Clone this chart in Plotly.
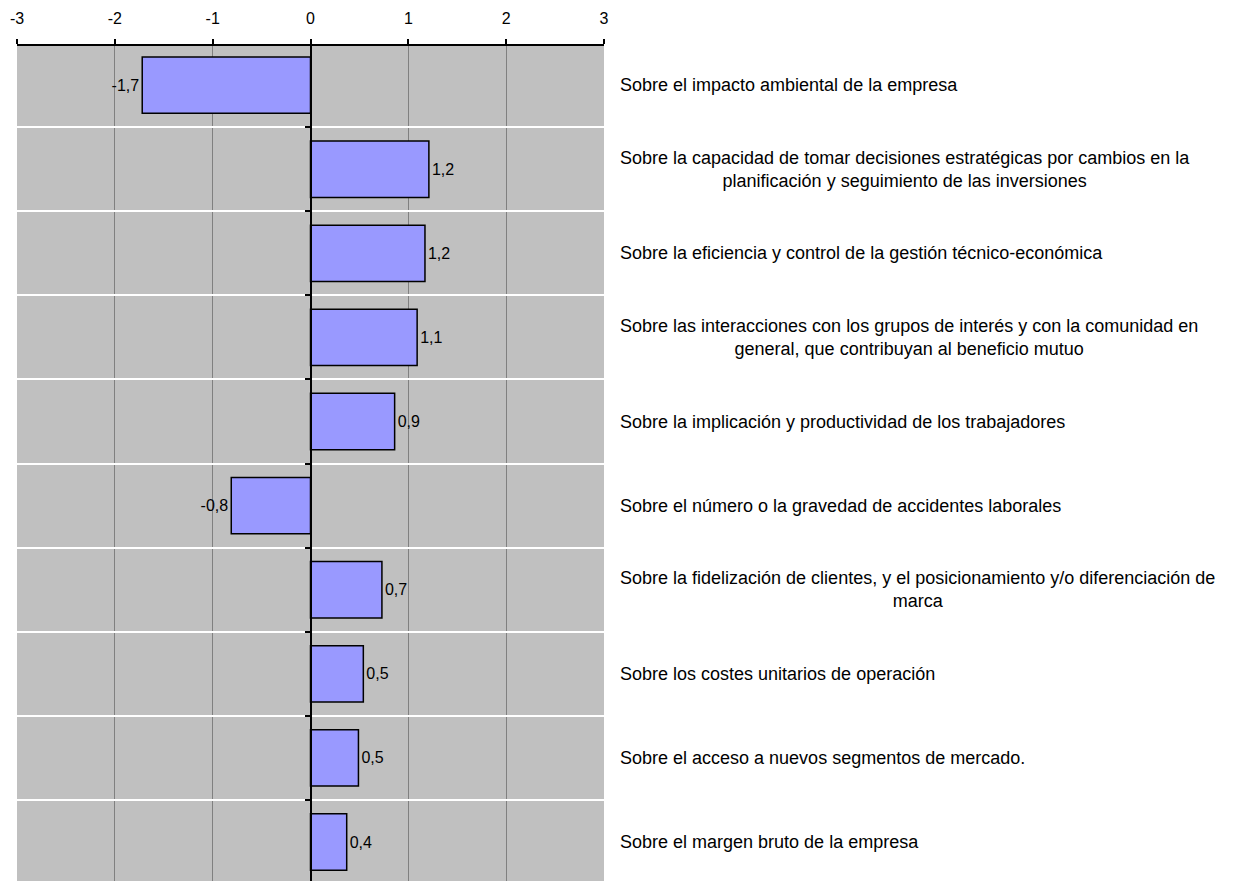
import plotly.graph_objects as go

categories = [
    "Sobre el impacto ambiental de la empresa",
    "Sobre la capacidad de tomar decisiones estratégicas por cambios en la<br>planificación y seguimiento de las inversiones",
    "Sobre la eficiencia y control de la gestión técnico-económica",
    "Sobre las interacciones con los grupos de interés y con la comunidad en<br>general, que contribuyan al beneficio mutuo",
    "Sobre la implicación y productividad de los trabajadores",
    "Sobre el número o la gravedad de accidentes laborales",
    "Sobre la fidelización de clientes, y el posicionamiento y/o diferenciación de<br>marca",
    "Sobre los costes unitarios de operación",
    "Sobre el acceso a nuevos segmentos de mercado.",
    "Sobre el margen bruto de la empresa",
]
values = [-1.72, 1.21, 1.17, 1.09, 0.86, -0.81, 0.73, 0.54, 0.49, 0.37]
x_ticks = [-3, -2, -1, 0, 1, 2, 3]

FONT = "Liberation Sans, Arial, sans-serif"

fig = go.Figure()
fig.add_trace(go.Bar(
    x=values,
    y=categories,
    orientation="h",
    width=0.67,
    marker=dict(color="#9999FF", line=dict(color="black", width=1.5)),
    texttemplate="%{x:.1f}",
    textposition="outside",
    textfont=dict(family=FONT, size=16, color="black"),
    cliponaxis=False,
    hoverinfo="skip",
))

for cat in categories:
    fig.add_annotation(
        x=1.0, xref="paper", xshift=14,
        y=cat, yref="y",
        text=cat, showarrow=False,
        xanchor="left", yanchor="middle", align="center",
        font=dict(family=FONT, size=18, color="black"),
    )

n = len(categories)
shift = 0.035
fig.update_layout(
    width=1234, height=881,
    margin=dict(l=9, r=638, t=36, b=2),
    paper_bgcolor="white",
    plot_bgcolor="#C0C0C0",
    separators=",.",
    showlegend=False,
    font=dict(family=FONT, size=16, color="black"),
    xaxis=dict(
        side="top",
        range=[-3, 3],
        tickvals=x_ticks,
        ticktext=[str(v) for v in x_ticks],
        showgrid=True, gridcolor="#808080", gridwidth=1.3,
        showline=True, linecolor="black", linewidth=2,
        ticks="outside", ticklen=5, tickcolor="black", tickwidth=1.5,
        tickfont=dict(family=FONT, size=16, color="black"),
        zeroline=False,
        ticklabelstandoff=9,
    ),
    yaxis=dict(
        type="category",
        categoryorder="array", categoryarray=categories,
        range=[n - 0.5 + shift, -0.5 + shift],
        anchor="free", position=0.5,
        showticklabels=False,
        tickson="boundaries",
        showgrid=True, gridcolor="white", gridwidth=2,
        showline=True, linecolor="black", linewidth=2,
        ticks="outside", ticklen=5, tickcolor="black", tickwidth=1.5,
        zeroline=False,
    ),
    bargap=0.33,
)

fig.write_html("out.html")
